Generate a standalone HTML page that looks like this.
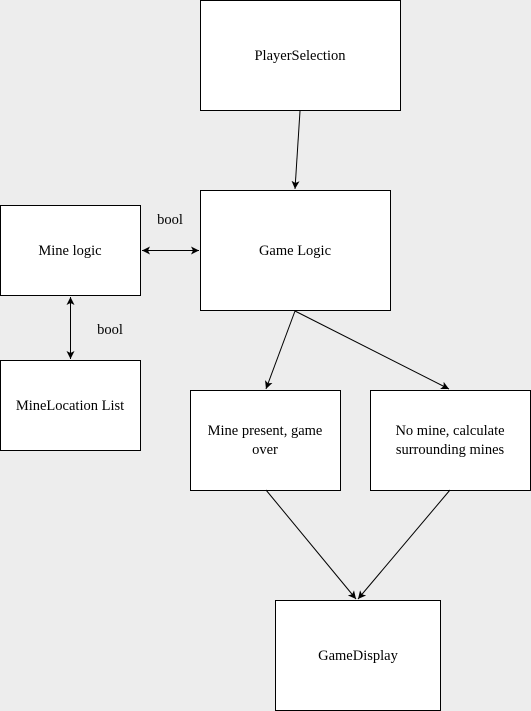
<!DOCTYPE html>
<html><head><style>
body{margin:0;background:#ededed;}
svg{display:block;}
</style></head><body>
<svg width="531" height="711" viewBox="0 0 531 711">
<defs><marker id="a" markerWidth="10" markerHeight="10" refX="8" refY="4" orient="auto-start-reverse" markerUnits="userSpaceOnUse"><path d="M0,0 L8,4 L0,8 L2,4 Z" fill="#000"/></marker></defs>
<g fill="#fff" stroke="#000" stroke-width="1">
<rect x="200.5" y="0.5" width="200" height="110"/>
<rect x="200.5" y="190.5" width="190" height="120"/>
<rect x="0.5" y="205.5" width="140" height="90"/>
<rect x="0.5" y="360.5" width="140" height="90"/>
<rect x="190.5" y="390.5" width="150" height="100"/>
<rect x="370.5" y="390.5" width="160" height="100"/>
<rect x="275.5" y="600.5" width="165" height="110"/>
</g>
<g stroke="#000" stroke-width="1" fill="none">
<line x1="300" y1="111" x2="295" y2="189" marker-end="url(#a)"/>
<line x1="142" y1="250.5" x2="199" y2="250.5" marker-start="url(#a)" marker-end="url(#a)"/>
<line x1="70.5" y1="297" x2="70.5" y2="359" marker-start="url(#a)" marker-end="url(#a)"/>
<line x1="295" y1="311" x2="266" y2="389" marker-end="url(#a)"/>
<line x1="295" y1="311" x2="449" y2="389" marker-end="url(#a)"/>
<line x1="266" y1="490" x2="356" y2="599" marker-end="url(#a)"/>
<line x1="450" y1="490" x2="358" y2="599" marker-end="url(#a)"/>
</g>
<g style="font-family:'Liberation Serif','Times New Roman','DejaVu Serif',serif;font-size:14.5px" fill="#000" text-anchor="middle">
<text x="300" y="60">PlayerSelection</text>
<text x="295" y="255">Game Logic</text>
<text x="70" y="255">Mine logic</text>
<text x="70" y="410">MineLocation List</text>
<text x="265" y="435">Mine present, game</text>
<text x="265" y="454">over</text>
<text x="450" y="435">No mine, calculate</text>
<text x="450" y="454">surrounding mines</text>
<text x="358" y="660">GameDisplay</text>
<text x="170" y="224">bool</text>
<text x="110" y="334">bool</text>
</g>
</svg>
</body></html>
